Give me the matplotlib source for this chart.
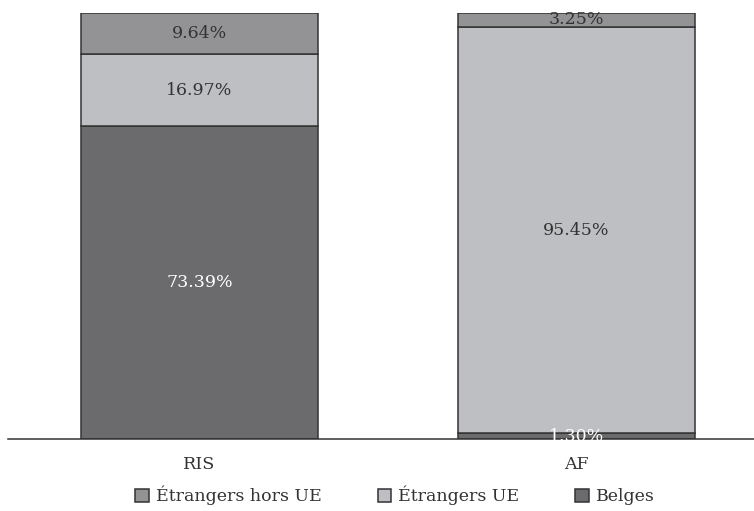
import matplotlib
matplotlib.use("Agg")
import matplotlib.pyplot as plt
import numpy as np

categories = ["RIS", "AF"]
series_names = ["Étrangers hors UE", "Étrangers UE", "Belges"]
belges = [73.39, 1.30]
etrangers_ue = [16.97, 95.45]
etrangers_hors_ue = [9.64, 3.25]

colors = {"Belges": "#6b6b6e", "Étrangers UE": "#bebfc2", "Étrangers hors UE": "#939396"}
label_colors = {"Belges": "#ffffff", "Étrangers UE": "#333333", "Étrangers hors UE": "#333333"}

plt.rcParams["font.family"] = ["DejaVu Serif"]
FS = 12.5

fig = plt.figure(figsize=(7.54, 5.11), dpi=100)
ax = fig.add_axes([8 / 754, 72 / 511, 746 / 754, 426 / 511])

x = np.arange(len(categories))
width = 0.629
stack = [("Belges", belges), ("Étrangers UE", etrangers_ue), ("Étrangers hors UE", etrangers_hors_ue)]
bottom = np.zeros(len(categories))
handles = {}
for name, vals in stack:
    vals = np.array(vals)
    bars = ax.bar(x, vals, width, bottom=bottom, color=colors[name],
                  edgecolor="#333333", linewidth=1.1, label=name)
    handles[name] = bars
    for xi, v, b in zip(x, vals, bottom):
        ax.text(xi, b + v / 2, f"{v:.2f}%", ha="center", va="center",
                fontsize=FS, color=label_colors[name])
    bottom += vals

ax.set_xlim(-0.508, 1.471)
ax.set_ylim(0, 100)
ax.set_xticks(x)
ax.set_xticklabels(categories, fontsize=FS, color="#333333")
ax.tick_params(axis="x", length=0, pad=12)
ax.set_yticks([])
for s in ["top", "right", "left"]:
    ax.spines[s].set_visible(False)
ax.spines["bottom"].set_color("#333333")
ax.spines["bottom"].set_linewidth(1.1)

fig.legend([handles[n] for n in series_names], series_names, loc="center",
           bbox_to_anchor=(0.524, 0.03), ncol=3, frameon=False, fontsize=FS,
           handlelength=0.8, handleheight=0.8, handletextpad=0.4,
           columnspacing=3.2, labelcolor="#333333")

fig.savefig("out.png", dpi=100)
